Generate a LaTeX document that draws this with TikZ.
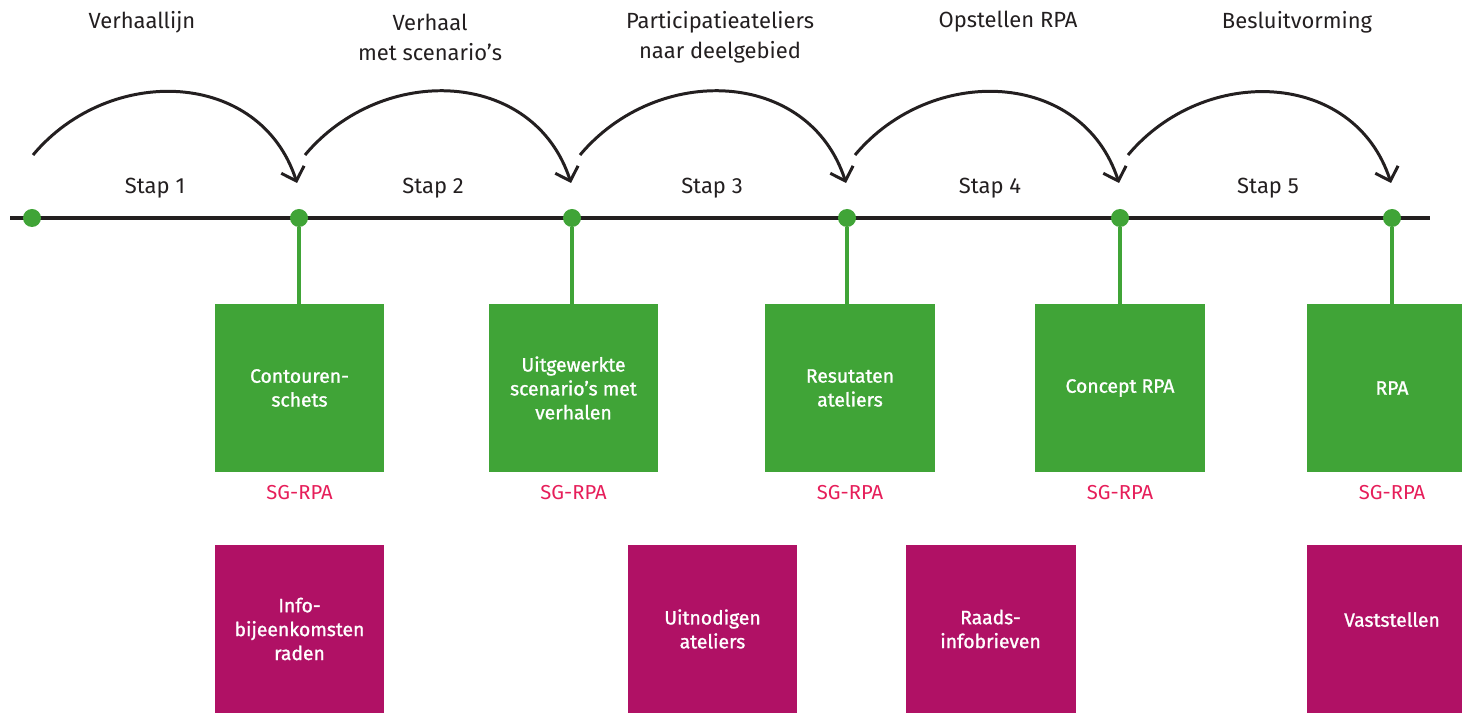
\documentclass[tikz,border=0pt]{standalone}
\usepackage{xcolor}
\usepackage{fontspec}
\setmainfont{Fira Sans}
\newfontfamily\boxfont[FakeBold=1.2, Ligatures=TeX]{Fira Sans}
\usepackage{tikz}
\usetikzlibrary{arrows.meta}

\definecolor{stepgreen}{HTML}{40A437}
\definecolor{stepmagenta}{HTML}{B01165}
\definecolor{sgpink}{HTML}{E61E5A}
\definecolor{inkdark}{HTML}{231F20}

\tikzset{
	greenbox/.style={rectangle, fill=stepgreen, text=white, minimum width=3.4cm, minimum height=3.36cm, align=center, font=\boxfont\fontsize{11}{13.6}\selectfont},
	magentabox/.style={rectangle, fill=stepmagenta, text=white, minimum width=3.4cm, minimum height=3.36cm, align=center, font=\boxfont\fontsize{11}{13.6}\selectfont},
	dot/.style={shape=circle, fill=stepgreen, inner sep=0pt, minimum size=0.36cm},
	phase/.style={text=inkdark, align=center, font=\fontsize{12.5}{17}\selectfont},
	sglabel/.style={text=sgpink, font=\fontsize{11.5}{14}\selectfont},
	hop/.style={draw=inkdark, line width=1.7pt, -{Straight Barb[length=2.4mm, width=4.8mm, line width=1.7pt]}, out=50, in=108, looseness=1.15}
}

\begin{document}
\begin{tikzpicture}[x=0.02cm, y=0.02cm]

	\useasboundingbox (0,0) rectangle (1462,713);

	\coordinate (lineL) at (10,495);
	\coordinate (lineR) at (1430,495);
	\draw[inkdark, line width=2.2pt] (lineL) -- (lineR);

	\node[dot] (d0) at (32,495) {};
	\node[dot] (d1) at (299,495) {};
	\node[dot] (d2) at (572,495) {};
	\node[dot] (d3) at (847,495) {};
	\node[dot] (d4) at (1120,495) {};
	\node[dot] (d5) at (1392,495) {};

	\node[phase] (p1) at (142,691) {Verhaallijn};
	\node[phase] (p2) at (430,676) {Verhaal\\met scenario’s};
	\node[phase] (p3) at (720,676) {Participatieateliers\\naar deelgebied};
	\node[phase] (p4) at (1008,691) {Opstellen RPA};
	\node[phase] (p5) at (1297,691) {Besluitvorming};

	\node[phase] (s1) at (155,525) {Stap 1};
	\node[phase] (s2) at (433,525) {Stap 2};
	\node[phase] (s3) at (712,525) {Stap 3};
	\node[phase] (s4) at (990,525) {Stap 4};
	\node[phase] (s5) at (1268,525) {Stap 5};

	\coordinate (a1) at (33,558);   \coordinate (t1) at (297,530);
	\coordinate (a2) at (305,558);  \coordinate (t2) at (571,530);
	\coordinate (a3) at (580,558);  \coordinate (t3) at (846,530);
	\coordinate (a4) at (855,558);  \coordinate (t4) at (1119,530);
	\coordinate (a5) at (1128,558); \coordinate (t5) at (1391,530);
	\draw[hop] (a1) to (t1);
	\draw[hop] (a2) to (t2);
	\draw[hop] (a3) to (t3);
	\draw[hop] (a4) to (t4);
	\draw[hop] (a5) to (t5);

	\node[greenbox] (g1) at (299.5,325) {Contouren-\\schets};
	\node[greenbox] (g2) at (573.5,325) {Uitgewerkte\\scenario’s met\\verhalen};
	\node[greenbox] (g3) at (850,325) {Resutaten\\ateliers};
	\node[greenbox] (g4) at (1120,325) {Concept RPA};
	\node[greenbox] (g5) at (1392,325) {RPA};

	\draw[stepgreen, line width=2.4pt] (d1) -- (d1 |- g1.north);
	\draw[stepgreen, line width=2.4pt] (d2) -- (d2 |- g2.north);
	\draw[stepgreen, line width=2.4pt] (d3) -- (d3 |- g3.north);
	\draw[stepgreen, line width=2.4pt] (d4) -- (d4 |- g4.north);
	\draw[stepgreen, line width=2.4pt] (d5) -- (d5 |- g5.north);

	\node[sglabel] (r1) at (299.5,220) {SG-RPA};
	\node[sglabel] (r2) at (573.5,220) {SG-RPA};
	\node[sglabel] (r3) at (850,220) {SG-RPA};
	\node[sglabel] (r4) at (1120,220) {SG-RPA};
	\node[sglabel] (r5) at (1392,220) {SG-RPA};

	\node[magentabox] (m1) at (299.5,84) {Info-\\bijeenkomsten\\raden};
	\node[magentabox] (m3) at (712.5,84) {Uitnodigen\\ateliers};
	\node[magentabox] (m4) at (990.5,84) {Raads-\\infobrieven};
	\node[magentabox] (m5) at (1392,84) {Vaststellen\\[-6.8pt]\strut};

\end{tikzpicture}
\end{document}
